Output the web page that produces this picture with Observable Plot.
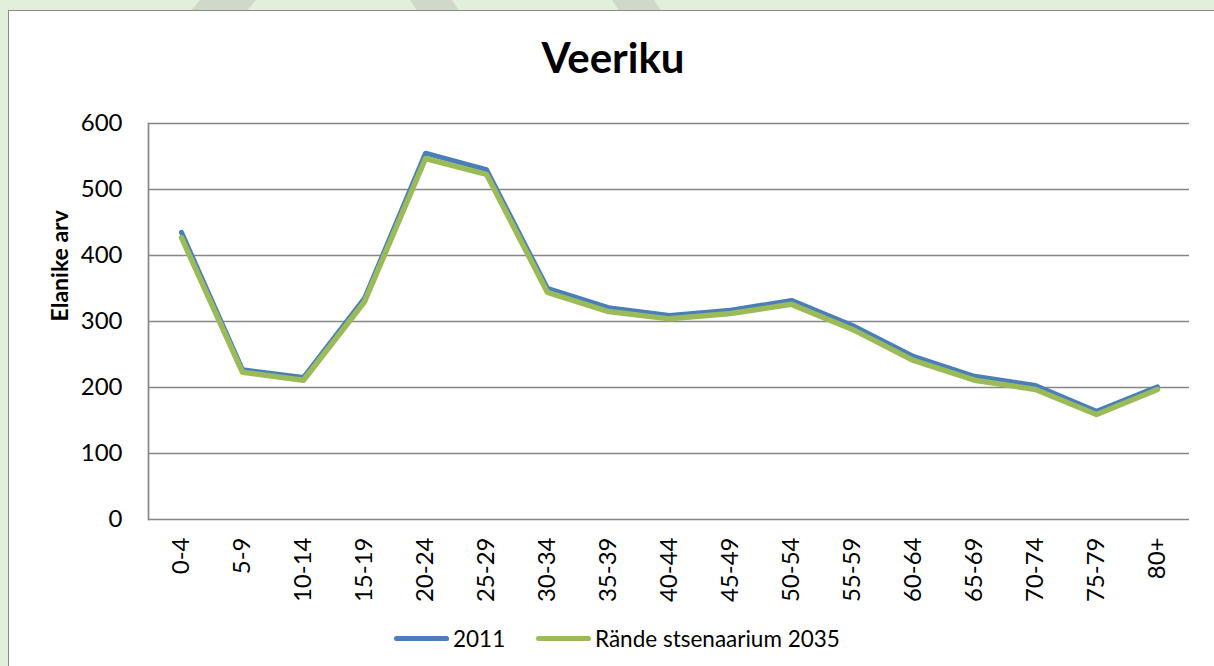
<!DOCTYPE html>
<html>
<head>
<meta charset="utf-8">
<script src="https://cdn.jsdelivr.net/npm/d3@7"></script>
<script src="https://cdn.jsdelivr.net/npm/@observablehq/plot@0.6"></script>
<style>
html, body { margin: 0; padding: 0; }
body { width: 1214px; height: 666px; background: #e2efda; position: relative; overflow: hidden; font-family: Lato, "Open Sans", sans-serif; }
.stripe { position: absolute; top: 0; height: 12px; background: #cfd8c9; }
#box { position: absolute; left: 8px; top: 10px; width: 1230px; height: 680px; background: #fff; border: 1.5px solid #8a8a8a; box-sizing: border-box; }
#title { position: absolute; left: 0; width: 1226px; top: 36px; text-align: center; font-weight: bold; font-size: 42px; line-height: 1; color: #000; }
#chart { position: absolute; left: 0; top: 100px; }
.sw { position: absolute; height: 5px; border-radius: 3px; top: 636px; }
.lt { position: absolute; top: 625px; font-size: 22.5px; line-height: 28px; color: #000; white-space: nowrap; }
</style>
</head>
<body>
<div class="stripe" style="left:190px;width:66px;clip-path:polygon(10px 0,66px 0,56px 12px,0 12px);"></div>
<div class="stripe" style="left:410px;width:50px;clip-path:polygon(0 0,42px 0,50px 12px,8px 12px);"></div>
<div class="stripe" style="left:612px;width:50px;clip-path:polygon(0 0,42px 0,50px 12px,8px 12px);"></div>
<div id="box"></div>
<div id="title">Veeriku</div>
<div id="chart"></div>
<div id="legend"></div>
<script>
const ageGroups = ["0-4","5-9","10-14","15-19","20-24","25-29","30-34","35-39","40-44","45-49","50-54","55-59","60-64","65-69","70-74","75-79","80+"];
const pop2011 = [435,227,215,335,555,530,350,321,309,317,332,294,247,217,203,164,201];
const scen2035 = [427,223,211,330,547,523,344,315,304,312,326,288,241,211,197,159,197];
const yTicks = [0,100,200,300,400,500,600];
const seriesNames = ["2011","Rände stsenaarium 2035"];
const seriesColors = ["#4a7ebb","#9bbb59"];

const rows1 = ageGroups.map((a,i) => ({age:a, value:pop2011[i]}));
const rows2 = ageGroups.map((a,i) => ({age:a, value:scen2035[i]}));

const chart = Plot.plot({
  width: 1214,
  height: 510,
  marginTop: 23,
  marginBottom: 91,
  marginLeft: 148,
  marginRight: 25,
  style: {fontFamily: "Lato, 'Open Sans', sans-serif", fontSize: "24px", color: "#000", background: "transparent"},
  x: {type: "point", domain: ageGroups, padding: 0.5, label: null, tickRotate: -90, tickSize: 0, tickPadding: 18},
  y: {domain: [0, 600], ticks: yTicks, label: null, tickSize: 0, tickPadding: 26},
  marks: [
    Plot.ruleY(yTicks, {stroke: "#868686", strokeWidth: 1.7}),
    Plot.frame({anchor: "left", stroke: "#868686", strokeWidth: 1.7}),
    Plot.line(rows1, {x: "age", y: "value", stroke: seriesColors[0], strokeWidth: 5, strokeLinecap: "round", strokeLinejoin: "round"}),
    Plot.line(rows2, {x: "age", y: "value", stroke: seriesColors[1], strokeWidth: 5.5, strokeLinecap: "round", strokeLinejoin: "round"}),
    Plot.text(["Elanike arv"], {frameAnchor: "left", dx: -88, rotate: -90, fontWeight: "bold", fontSize: 23, fill: "#000"})
  ]
});
document.getElementById("chart").appendChild(chart);

const legend = document.getElementById("legend");
const legendPos = [{sw: 394, tx: 453}, {sw: 536, tx: 595}];
seriesNames.forEach((name, i) => {
  const s = document.createElement("div");
  s.className = "sw";
  s.style.left = legendPos[i].sw + "px";
  s.style.width = "55px";
  s.style.background = seriesColors[i];
  legend.appendChild(s);
  const t = document.createElement("div");
  t.className = "lt";
  t.style.left = legendPos[i].tx + "px";
  t.textContent = name;
  legend.appendChild(t);
});
</script>
</body>
</html>
